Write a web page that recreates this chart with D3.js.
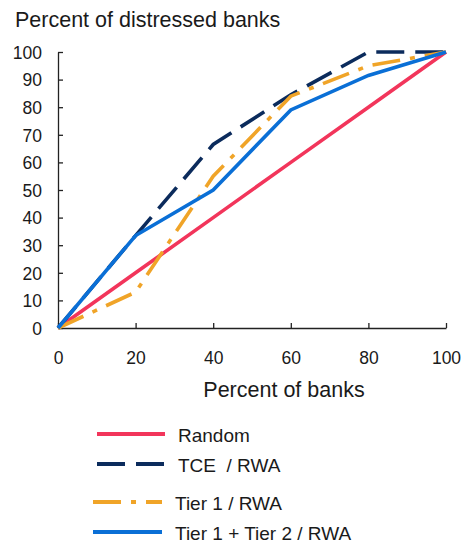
<!DOCTYPE html>
<html>
<meta charset="utf-8">
<head>
  <title>Distressed banks</title>
</head>
<style>
body { margin: 0; background: #fff; }
text { font-family: "Liberation Sans", Arial, sans-serif; fill: #1a1a1a; }
.axis path, .axis line { stroke: #222; stroke-width: 1.3px; }
.axis text { font-size: 17.5px; font-family: "Liberation Sans", Arial, sans-serif; fill: #1a1a1a; }
.line { fill: none; stroke-width: 3.6px; }
</style>
<body>
<script src="https://cdnjs.cloudflare.com/ajax/libs/d3/7.8.5/d3.min.js"></script>
<script>

var xs = [0, 20, 40, 60, 80, 100]
var random = [0, 20, 40, 60, 80, 100]
var tce = [0, 33.5, 66.5, 84.5, 100, 100]
var tier1 = [0, 13, 55, 84, 95, 100]
var tier12 = [0, 33.5, 50, 79, 91.5, 100]

var xTicks = [0, 20, 40, 60, 80, 100]
var yTicks = [0, 10, 20, 30, 40, 50, 60, 70, 80, 90, 100]

var series = [
  {name: "Random", values: random, color: "#f2355b", dash: null},
  {name: "TCE  / RWA", values: tce, color: "#0b2b5c", dash: "28,11"},
  {name: "Tier 1 / RWA", values: tier1, color: "#f0a428", dash: "28,10,5,10"},
  {name: "Tier 1 + Tier 2 / RWA", values: tier12, color: "#0a6fd6", dash: null}
]

var width = 463, height = 545

var svg = d3.select("body").append("svg")
    .attr("width", width)
    .attr("height", height)

var x = d3.scaleLinear().domain([0, 100]).range([58, 446])
var y = d3.scaleLinear().domain([0, 100]).range([328, 52])

svg.append("text")
    .attr("x", 15).attr("y", 27)
    .style("font-size", "21.5px")
    .text("Percent of distressed banks")

var yAxis = svg.append("g")
    .attr("class", "axis")
    .attr("transform", "translate(58,0)")
    .call(d3.axisRight(y).tickValues(yTicks).tickSize(5).tickSizeOuter(0).tickPadding(0))
yAxis.selectAll("text")
    .attr("x", -16)
    .attr("dy", "0.36em")
    .attr("text-anchor", "end")

var xAxis = svg.append("g")
    .attr("class", "axis")
    .attr("transform", "translate(0,328)")
    .call(d3.axisTop(x).tickValues(xTicks).tickSize(5).tickSizeOuter(0))
xAxis.selectAll("text")
    .attr("y", 36)
    .attr("dy", 0)

svg.append("text")
    .attr("x", 284).attr("y", 397)
    .attr("text-anchor", "middle")
    .style("font-size", "21.5px")
    .text("Percent of banks")

var line = d3.line()
  .x(function(d, i) { return x(xs[i]) })
  .y(function(d) { return y(d) })

svg.selectAll(".line")
  .data(series)
  .enter().append("path")
    .attr("class", "line")
    .attr("stroke", function(d) { return d.color })
    .attr("stroke-dasharray", function(d) { return d.dash })
    .attr("d", function(d) { return line(d.values) })

// legend
var legY = [434, 464, 502, 532]
var legX = [[97, 165, 178], [97, 165, 178], [93, 162, 175], [93, 162, 175]]

var leg = svg.selectAll(".leg")
  .data(series)
  .enter().append("g")
    .attr("class", "leg")
leg.append("line")
    .attr("x1", function(d, i) { return legX[i][0] })
    .attr("x2", function(d, i) { return legX[i][1] })
    .attr("y1", function(d, i) { return legY[i] })
    .attr("y2", function(d, i) { return legY[i] })
    .attr("stroke", function(d) { return d.color })
    .attr("stroke-width", 4)
    .attr("stroke-dasharray", function(d) { return d.dash })
leg.append("text")
    .attr("x", function(d, i) { return legX[i][2] })
    .attr("y", function(d, i) { return legY[i] + 8 })
    .style("font-size", "19px")
    .style("white-space", "pre")
    .text(function(d) { return d.name })

</script>
</body>
</html>
